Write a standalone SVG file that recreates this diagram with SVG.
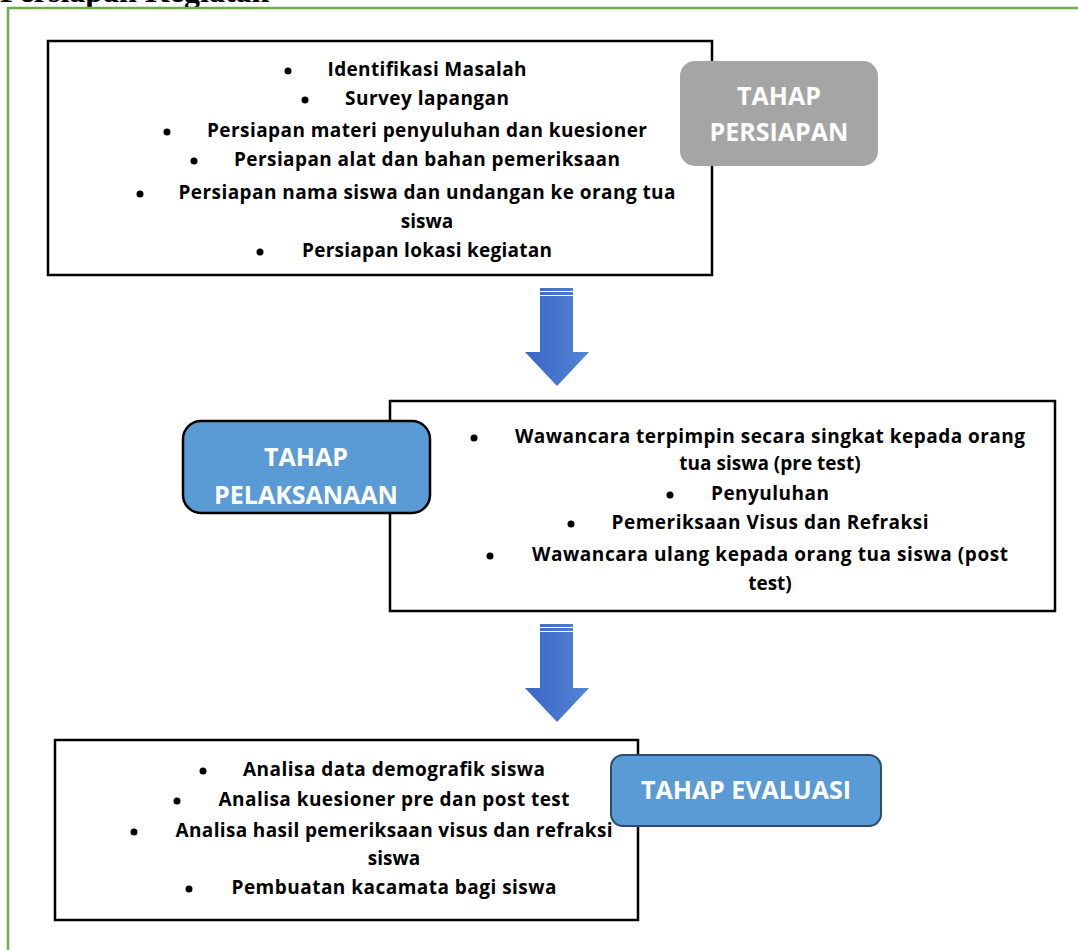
<svg xmlns="http://www.w3.org/2000/svg" width="1078" height="950" viewBox="0 0 1078 950">
<defs>
<linearGradient id="ag" x1="0" y1="0" x2="1" y2="0">
<stop offset="0" stop-color="#3A67C6"/>
<stop offset="1" stop-color="#5483D4"/>
</linearGradient>
<style>
.box{fill:#fff;stroke:#000;stroke-width:2.5}
.t{font-family:"Open Sans","Liberation Sans",Arial,sans-serif;font-weight:bold;font-size:19px;fill:#000;text-anchor:middle}
.b{fill:#000}
.bt{font-family:"Open Sans","Liberation Sans",Arial,sans-serif;font-weight:bold;font-size:25px;fill:#fff;text-anchor:middle}
.arrow{fill:url(#ag)}
</style>
</defs>
<rect width="1078" height="950" fill="#fff"/>
<text x="0" y="2" font-family="Liberation Serif,serif" font-weight="bold" font-size="32">Persiapan Kegiatan</text>
<path d="M8 950 V8 H1078" fill="none" stroke="#70AD47" stroke-width="2.5"/>

<g id="connectors">
<g id="arrow1">
<path class="arrow" d="M540 288 H573 V352 H589 L557 386 L525 352 H540 Z"/>
<line x1="540" y1="291.5" x2="573" y2="291.5" stroke="#fff" stroke-width="1"/>
<line x1="540" y1="295.5" x2="573" y2="295.5" stroke="#fff" stroke-width="1"/>
</g>
<g id="arrow2">
<path class="arrow" d="M540 624 H573 V688 H589 L557 722 L525 688 H540 Z"/>
<line x1="540" y1="627.5" x2="573" y2="627.5" stroke="#fff" stroke-width="1"/>
<line x1="540" y1="631.5" x2="573" y2="631.5" stroke="#fff" stroke-width="1"/>
</g>
</g>

<g id="box-persiapan">
<rect class="box" x="48" y="41" width="664" height="234"/>
<circle class="b" cx="288" cy="71" r="3.5"/><text class="t" x="427" y="76" textLength="199" lengthAdjust="spacing">Identifikasi Masalah</text>
<circle class="b" cx="305" cy="100" r="3.5"/><text class="t" x="427" y="105" textLength="164" lengthAdjust="spacing">Survey lapangan</text>
<circle class="b" cx="167" cy="132" r="3.5"/><text class="t" x="427" y="137" textLength="440" lengthAdjust="spacing">Persiapan materi penyuluhan dan kuesioner</text>
<circle class="b" cx="194" cy="161" r="3.5"/><text class="t" x="427" y="166" textLength="386" lengthAdjust="spacing">Persiapan alat dan bahan pemeriksaan</text>
<circle class="b" cx="140" cy="194" r="3.5"/><text class="t" x="427" y="199" textLength="497" lengthAdjust="spacing">Persiapan nama siswa dan undangan ke orang tua</text>
<text class="t" x="427" y="228">siswa</text>
<circle class="b" cx="260" cy="252" r="3.5"/><text class="t" x="427" y="257" textLength="250" lengthAdjust="spacing">Persiapan lokasi kegiatan</text>
</g>

<g id="badge-persiapan">
<rect x="680" y="61" width="198" height="105" rx="15" fill="#A5A5A5"/>
<text class="bt" x="779" y="105">TAHAP</text>
<text class="bt" x="779" y="141">PERSIAPAN</text>
</g>

<g id="box-pelaksanaan">
<rect class="box" x="390" y="401" width="665" height="210"/>
<circle class="b" cx="474" cy="438" r="3.5"/><text class="t" x="770" y="443" textLength="510" lengthAdjust="spacing">Wawancara terpimpin secara singkat kepada orang</text>
<text class="t" x="770" y="470">tua siswa (pre test)</text>
<circle class="b" cx="670" cy="495" r="3.5"/><text class="t" x="770" y="500" textLength="118" lengthAdjust="spacing">Penyuluhan</text>
<circle class="b" cx="571" cy="524" r="3.5"/><text class="t" x="770" y="529" textLength="317" lengthAdjust="spacing">Pemeriksaan Visus dan Refraksi</text>
<circle class="b" cx="490" cy="556" r="3.5"/><text class="t" x="770" y="561" textLength="476" lengthAdjust="spacing">Wawancara ulang kepada orang tua siswa (post</text>
<text class="t" x="770" y="590">test)</text>
</g>

<g id="badge-pelaksanaan">
<rect x="183" y="421" width="247" height="92" rx="18" fill="#5B9BD5" stroke="#000" stroke-width="2.5"/>
<text class="bt" x="306" y="466">TAHAP</text>
<text class="bt" x="306" y="504">PELAKSANAAN</text>
</g>

<g id="box-evaluasi">
<rect class="box" x="55" y="740" width="583" height="180"/>
<circle class="b" cx="203" cy="771" r="3.5"/><text class="t" x="394" y="776" textLength="302" lengthAdjust="spacing">Analisa data demografik siswa</text>
<circle class="b" cx="177" cy="801" r="3.5"/><text class="t" x="394" y="806" textLength="351" lengthAdjust="spacing">Analisa kuesioner pre dan post test</text>
<circle class="b" cx="134" cy="832" r="3.5"/><text class="t" x="394" y="837" textLength="437" lengthAdjust="spacing">Analisa hasil pemeriksaan visus dan refraksi</text>
<text class="t" x="394" y="865">siswa</text>
<circle class="b" cx="189" cy="889" r="3.5"/><text class="t" x="394" y="894" textLength="325" lengthAdjust="spacing">Pembuatan kacamata bagi siswa</text>
</g>

<g id="badge-evaluasi">
<rect x="611" y="755" width="270" height="71" rx="12" fill="#5B9BD5" stroke="#2F4B6B" stroke-width="2"/>
<text class="bt" x="746" y="799">TAHAP EVALUASI</text>
</g>
</svg>
